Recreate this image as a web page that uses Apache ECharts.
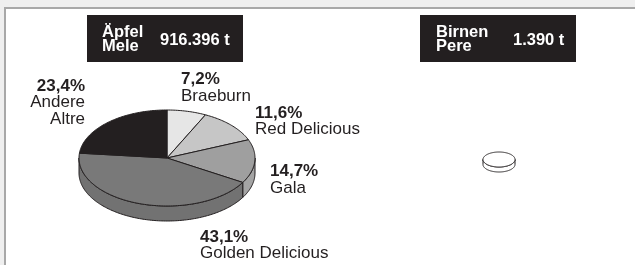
<!DOCTYPE html>
<html lang="de">
<head>
<meta charset="UTF-8">
<title>Äpfel / Birnen</title>
<style>
  html, body { margin: 0; padding: 0; background: #efefef; }
  #main { width: 635px; height: 265px; }
</style>
</head>
<body>
<div id="main"></div>
<script src="https://cdn.jsdelivr.net/npm/echarts@6/dist/echarts.min.js"></script>
<script>
// Daten
var appleNames = ['Braeburn', 'Red Delicious', 'Gala', 'Golden Delicious', 'Andere\nAltre'];
var appleShares = [7.2, 11.6, 14.7, 43.1, 23.4];
var appleTitle = ['Äpfel', 'Mele'];
var appleTotal = '916.396 t';
var pearShares = [100];
var pearTitle = ['Birnen', 'Pere'];
var pearTotal = '1.390 t';

// Farben / Layout
var appleColors = ['#e6e6e6', '#c6c6c6', '#9f9f9f', '#797979', '#231f20'];
var appleSideColors = ['#e0e0e0', '#bdbdbd', '#a4a4a4', '#727272', '#231f20'];
var ink = '#231f20';
var font = '"Liberation Sans", Arial, sans-serif';
var labelSpots = [
  { x: 181, y: 85.5, align: 'left' },
  { x: 255, y: 119, align: 'left' },
  { x: 270, y: 177.5, align: 'left' },
  { x: 200, y: 243, align: 'left' },
  { x: 85, y: 92, align: 'right' }
];
var lineGap = 16.5;

function pct(v) {
  return v.toFixed(1).replace('.', ',') + '%';
}

// 3D-Torte als custom series (Ellipse + Seitenwand)
function pie3d(shares, colors, sides, cx, cy, rx, ry, h, lw) {
  var total = shares.reduce(function (s, v) { return s + v; }, 0);
  var starts = [], acc = 0;
  shares.forEach(function (v) { starts.push(acc); acc += v; });
  function pt(a, dy) { return [cx + rx * Math.sin(a), cy - ry * Math.cos(a) + dy]; }
  function arc(a0, a1, dy) {
    var n = Math.max(2, Math.ceil(Math.abs(a1 - a0) / 0.02));
    var out = [];
    for (var k = 0; k <= n; k++) out.push(pt(a0 + (a1 - a0) * k / n, dy));
    return out;
  }
  return {
    type: 'custom',
    coordinateSystem: 'none',
    silent: true,
    data: shares.map(function (v, i) { return [i, v]; }),
    renderItem: function (params, api) {
      var i = params.dataIndex;
      var v = api.value(1);
      var a0 = starts[i] / total * 2 * Math.PI;
      var a1 = (starts[i] + v) / total * 2 * Math.PI;
      var children = [];
      var s0 = Math.max(a0, Math.PI / 2), s1 = Math.min(a1, 1.5 * Math.PI);
      if (s1 > s0) {
        children.push({
          type: 'polygon', z2: 1,
          shape: { points: arc(s0, s1, 0).concat(arc(s1, s0, h)) },
          style: { fill: sides[i], stroke: ink, lineWidth: lw }
        });
      }
      var top = arc(a0, a1, 0);
      if (v < total) top.unshift([cx, cy]);
      children.push({
        type: 'polygon', z2: 5,
        shape: { points: top },
        style: { fill: colors[i], stroke: ink, lineWidth: lw }
      });
      return { type: 'group', children: children };
    }
  };
}

function txt(x, y, s, size, bold, color, align) {
  return {
    type: 'text', z: 20, silent: true,
    x: x, y: y,
    style: {
      text: s, fill: color,
      font: (bold ? 'bold ' : '') + size + 'px ' + font,
      align: align || 'left', verticalAlign: 'middle',
      textAlign: align || 'left', textVerticalAlign: 'middle'
    }
  };
}

var graphics = [
  { type: 'rect', z: 0, silent: true, shape: { x: 5, y: 8, width: 700, height: 300 },
    style: { fill: '#ffffff', stroke: '#a8a8a8', lineWidth: 2 } },
  { type: 'rect', z: 1, silent: true, shape: { x: 87, y: 15, width: 156, height: 47 }, style: { fill: ink } },
  { type: 'rect', z: 1, silent: true, shape: { x: 420, y: 15, width: 156, height: 47 }, style: { fill: ink } },
  txt(102, 38 - 6, appleTitle[0], 16.5, true, '#fff'),
  txt(102, 52 - 6, appleTitle[1], 16.5, true, '#fff'),
  txt(160, 46 - 6, appleTotal, 16.5, true, '#fff'),
  txt(436, 38 - 6, pearTitle[0], 16.5, true, '#fff'),
  txt(436, 52 - 6, pearTitle[1], 16.5, true, '#fff'),
  txt(513, 46 - 6, pearTotal, 16.5, true, '#fff')
];

appleShares.forEach(function (v, i) {
  var spot = labelSpots[i];
  var lines = [pct(v)].concat(appleNames[i].split('\n'));
  lines.forEach(function (s, k) {
    graphics.push(txt(spot.x, spot.y + k * lineGap - 6, s, 17, k === 0, ink, spot.align));
  });
});

var myChart = echarts.init(document.getElementById('main'));
myChart.setOption({
  backgroundColor: '#efefef',
  animation: false,
  graphic: { elements: graphics },
  series: [
    pie3d(appleShares, appleColors, appleSideColors, 167, 158, 88, 48, 15, 1),
    pie3d(pearShares, ['#ffffff'], ['#ffffff'], 499, 159.5, 16, 7.5, 5, 1)
  ]
});
</script>
</body>
</html>
